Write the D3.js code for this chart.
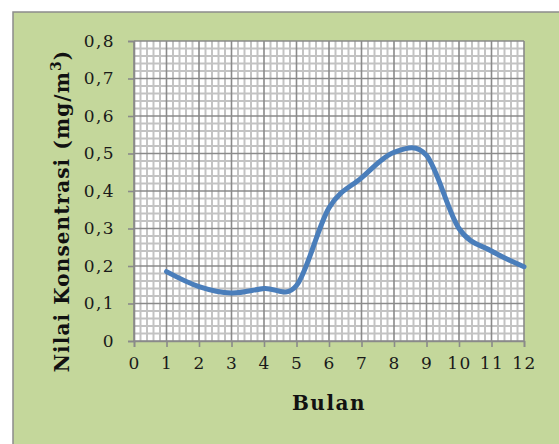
<!DOCTYPE html>
<html>
<head>
<meta charset="utf-8">
<script src="https://cdn.jsdelivr.net/npm/d3@7"></script>
<style>
  html, body { margin: 0; padding: 0; background: #ffffff; }
  svg { display: block; }
</style>
</head>
<body>
<svg id="chart" width="559" height="444"></svg>
<script>
// Monthly concentration readings
const months = [1, 2, 3, 4, 5, 6, 7, 8, 9, 10, 11, 12];
const concentration = [0.185, 0.145, 0.128, 0.14, 0.148, 0.355, 0.435, 0.503, 0.495, 0.3, 0.24, 0.198];
const xTicks = [0, 1, 2, 3, 4, 5, 6, 7, 8, 9, 10, 11, 12];
const yTicks = [0, 0.1, 0.2, 0.3, 0.4, 0.5, 0.6, 0.7, 0.8];

const svg = d3.select("#chart");
const W = 559, H = 444;
const plot = { left: 134, right: 524, top: 41, bottom: 341 };

// chart area background
svg.append("rect")
  .attr("x", 13).attr("y", 12)
  .attr("width", W - 13 + 2).attr("height", H - 12 + 2)
  .attr("fill", "#c4d79b")
  .attr("stroke", "#8c8c8c").attr("stroke-width", 1.5);

const x = d3.scaleLinear().domain([0, 12]).range([plot.left, plot.right]);
const y = d3.scaleLinear().domain([0, 0.8]).range([plot.bottom, plot.top]);

svg.append("rect")
  .attr("x", plot.left).attr("y", plot.top)
  .attr("width", plot.right - plot.left).attr("height", plot.bottom - plot.top)
  .attr("fill", "#ffffff");

// minor grid: five divisions per major step
const minorX = d3.range(0, 12 * 5 + 1).map(i => i / 5).filter(v => Math.abs(v - Math.round(v)) > 1e-6);
const minorY = d3.range(0, 8 * 5 + 1).map(i => i / 50).filter(v => Math.abs(v * 10 - Math.round(v * 10)) > 1e-6);

const grid = svg.append("g");
grid.selectAll(".mx").data(minorX).enter().append("line")
  .attr("x1", d => x(d)).attr("x2", d => x(d))
  .attr("y1", plot.top).attr("y2", plot.bottom)
  .attr("stroke", "#c3c3c3").attr("stroke-width", 2);
grid.selectAll(".my").data(minorY).enter().append("line")
  .attr("x1", plot.left).attr("x2", plot.right)
  .attr("y1", d => y(d)).attr("y2", d => y(d))
  .attr("stroke", "#c3c3c3").attr("stroke-width", 2);
grid.selectAll(".Mx").data(xTicks).enter().append("line")
  .attr("x1", d => x(d)).attr("x2", d => x(d))
  .attr("y1", plot.top).attr("y2", plot.bottom)
  .attr("stroke", "#8a8a8a").attr("stroke-width", 1.6);
grid.selectAll(".My").data(yTicks).enter().append("line")
  .attr("x1", plot.left).attr("x2", plot.right)
  .attr("y1", d => y(d)).attr("y2", d => y(d))
  .attr("stroke", "#8a8a8a").attr("stroke-width", 1.6);

const fmt = d => d === 0 ? "0" : d3.format(".1f")(d).replace(".", ",");
const tickFont = "'DejaVu Serif', serif";

// y axis
const yAxis = svg.append("g")
  .attr("transform", `translate(${plot.left},0)`)
  .call(d3.axisLeft(y).tickValues(yTicks).tickFormat(fmt).tickSize(6).tickPadding(13));
// x axis
const xAxis = svg.append("g")
  .attr("transform", `translate(0,${plot.bottom})`)
  .call(d3.axisBottom(x).tickValues(xTicks).tickSize(6).tickPadding(10));

[yAxis, xAxis].forEach(a => {
  a.select(".domain").attr("stroke", "#8a8a8a").attr("stroke-width", 1.6);
  a.selectAll(".tick line").attr("stroke", "#8a8a8a").attr("stroke-width", 1.6);
  a.selectAll(".tick text")
    .attr("fill", "#1a1a1a")
    .style("font-family", tickFont)
    .style("font-size", "17px")
    .style("letter-spacing", "1.4px");
});

// concentration curve
const line = d3.line()
  .x((d, i) => x(months[i]))
  .y(d => y(d))
  .curve(d3.curveCatmullRom.alpha(0));
svg.append("path")
  .datum(concentration)
  .attr("d", line)
  .attr("fill", "none")
  .attr("stroke", "#4a7ebb")
  .attr("stroke-width", 5)
  .attr("stroke-linecap", "round")
  .attr("stroke-linejoin", "round");

// axis titles
svg.append("text")
  .attr("x", (plot.left + plot.right) / 2).attr("y", 410)
  .attr("text-anchor", "middle")
  .style("font-family", tickFont).style("font-weight", "bold").style("font-size", "20px")
  .style("letter-spacing", "1.5px")
  .attr("fill", "#111")
  .text("Bulan");

const yt = svg.append("text")
  .attr("transform", "translate(69,211) rotate(-90)")
  .attr("text-anchor", "middle")
  .style("font-family", tickFont).style("font-weight", "bold").style("font-size", "20px")
  .style("letter-spacing", "1.1px")
  .attr("fill", "#111");
yt.append("tspan").text("Nilai Konsentrasi (mg/m");
yt.append("tspan").attr("dy", -8).style("font-size", "14px").text("3");
yt.append("tspan").attr("dy", 8).text(")");
</script>
</body>
</html>
